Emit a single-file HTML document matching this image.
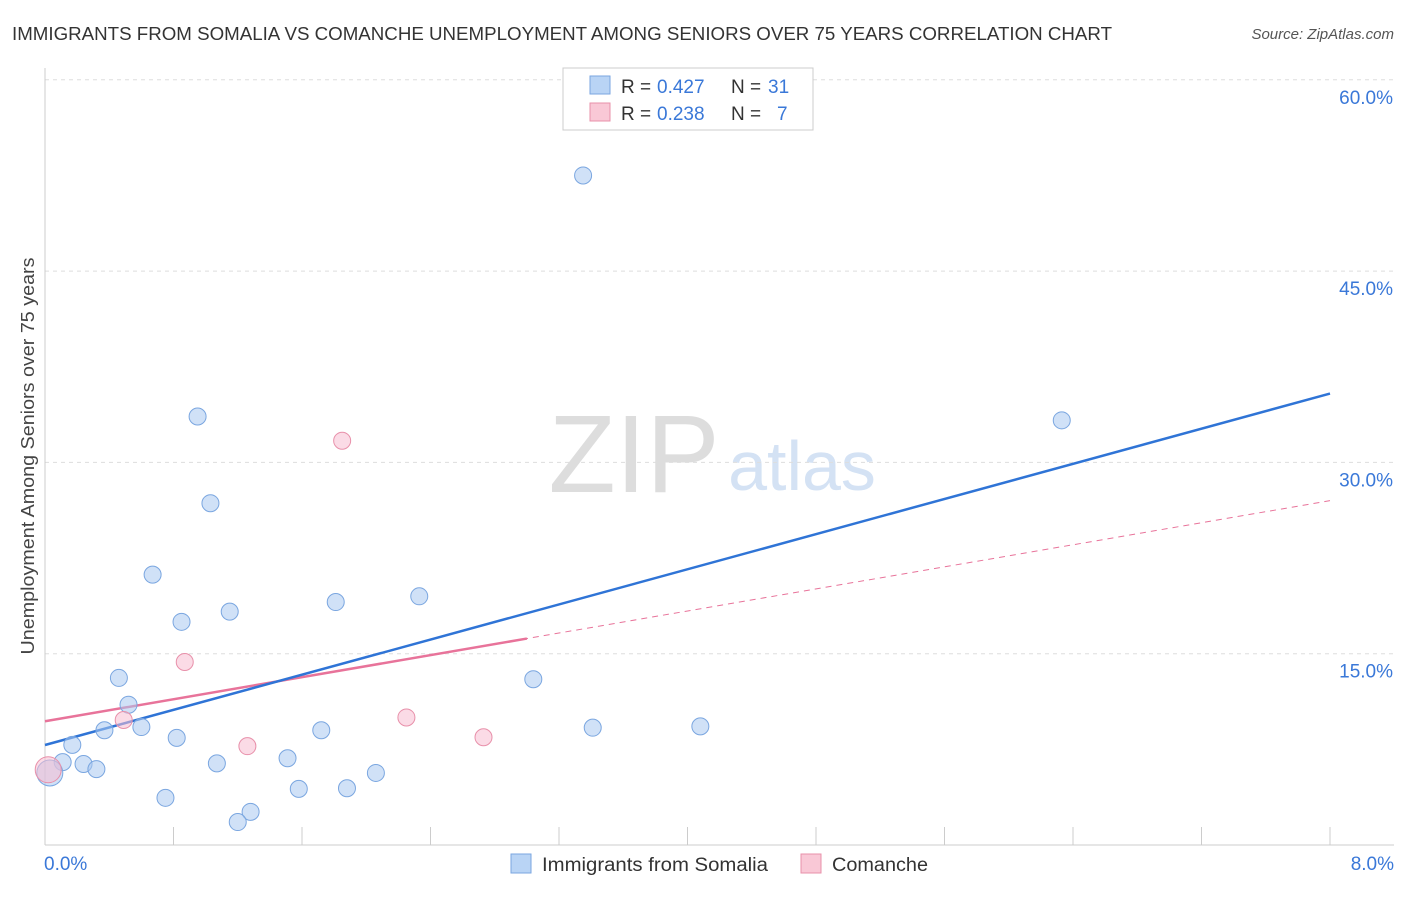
<!DOCTYPE html>
<html><head><meta charset="utf-8"><style>
body{margin:0;background:#fff;font-family:"Liberation Sans",sans-serif;}
svg text{font-family:"Liberation Sans",sans-serif;}
</style></head><body>
<svg id="chart" width="1406" height="892" xmlns="http://www.w3.org/2000/svg">
<text x="12" y="40" font-size="18" fill="#333" textLength="1100" lengthAdjust="spacingAndGlyphs">IMMIGRANTS FROM SOMALIA VS COMANCHE UNEMPLOYMENT AMONG SENIORS OVER 75 YEARS CORRELATION CHART</text>
<text x="1394" y="39" font-size="15" fill="#555" text-anchor="end" font-style="italic">Source: ZipAtlas.com</text>
<text transform="translate(34,456) rotate(-90)" font-size="18" fill="#444" text-anchor="middle" textLength="397" lengthAdjust="spacingAndGlyphs">Unemployment Among Seniors over 75 years</text>
<g>
<text x="634" y="492" font-size="110" fill="#ddd" font-family="Liberation Serif" text-anchor="middle">ZIP</text>
<text x="802" y="490" font-size="70" fill="#d4e2f4" text-anchor="middle">atlas</text>
</g>
<g id="grid"></g>
<g id="axes"></g>
<g id="lines"></g>
<g id="points"></g>
<g>
<rect x="563" y="68" width="250" height="62" fill="#fff" stroke="#ccc"/>
<rect x="590" y="76" width="20" height="18" fill="#b9d4f5" stroke="#7aa6e0"/>
<text x="621" y="93" font-size="19" fill="#333">R =</text>
<text x="657" y="93" font-size="19" fill="#3a78d8">0.427</text>
<text x="731" y="93" font-size="19" fill="#333">N =</text>
<text x="768" y="93" font-size="19" fill="#3a78d8">31</text>
<rect x="590" y="103" width="20" height="18" fill="#f9c8d6" stroke="#e890aa"/>
<text x="621" y="120" font-size="19" fill="#333">R =</text>
<text x="657" y="120" font-size="19" fill="#3a78d8">0.238</text>
<text x="731" y="120" font-size="19" fill="#333">N =</text>
<text x="777" y="120" font-size="19" fill="#3a78d8">7</text>
</g>
<g>
<rect x="511" y="854" width="20" height="19" fill="#b9d4f5" stroke="#7aa6e0"/>
<text x="542" y="871" font-size="19" fill="#333" textLength="226" lengthAdjust="spacingAndGlyphs">Immigrants from Somalia</text>
<rect x="801" y="854" width="20" height="19" fill="#f9c8d6" stroke="#e890aa"/>
<text x="832" y="871" font-size="19" fill="#333" textLength="96" lengthAdjust="spacingAndGlyphs">Comanche</text>
</g>
</svg>
<script>
const blueX=[3.35,0.95,6.33,1.03,0.67,0.85,1.15,1.81,2.33,0.46,3.04,0.52,0.37,0.60,1.72,3.41,4.08,0.82,0.17,0.11,0.24,0.32,1.07,1.51,2.06,0.75,1.58,1.88,1.28,1.20,0.03];
const blueY=[52.5,33.6,33.3,26.8,21.2,17.5,18.3,19.05,19.5,13.1,13.0,11.0,9.0,9.25,9.0,9.2,9.3,8.4,7.85,6.5,6.35,5.95,6.4,6.8,5.65,3.7,4.4,4.45,2.6,1.8,5.65];
const pinkX=[1.85,0.87,0.49,1.26,2.25,2.73,0.02];
const pinkY=[31.7,14.35,9.8,7.75,10.0,8.45,5.9];
const yTicks=[15,30,45,60];
const yTickLabels=["15.0%","30.0%","45.0%","60.0%"];
const xTickLabels=["0.0%","8.0%"];
const blueTrend=[7.84,35.4];
const pinkTrend=[9.7,27.0];
const pinkSolidEnd=3.0;
const X=v=>45+v/8*1285, Y=v=>845-v/15*191.3;
const NS="http://www.w3.org/2000/svg";
function mk(p,t,a){const e=document.createElementNS(NS,t);for(const k in a)e.setAttribute(k,a[k]);document.getElementById(p).appendChild(e);return e;}
yTicks.forEach((t,i)=>{
 const g=mk('grid','line',{x1:45,x2:1394,y1:Y(t),y2:Y(t),stroke:'#ddd','stroke-dasharray':'4,4'});
 
 
 const l=mk('grid','text',{x:1393,y:Y(t)+24,'font-size':19,fill:'#3a78d8','text-anchor':'end'});
 l.textContent=yTickLabels[i];
 
 
});
let ax=mk('axes','line',{x1:45,x2:45,y1:68,y2:845,stroke:'#ccc'});


ax=mk('axes','line',{x1:45,x2:1394,y1:845,y2:845,stroke:'#ccc'});


for(let i=1;i<=10;i++){const t=mk('axes','line',{x1:X(i*0.8),x2:X(i*0.8),y1:827,y2:845,stroke:'#ccc'});
 
 }
[[0,'start',44],[8,'end',1394]].forEach((d,i)=>{const l=mk('axes','text',{x:d[2],y:870,'font-size':19,fill:'#3a78d8','text-anchor':d[1]});l.textContent=xTickLabels[i];
 
 });
let ln=mk('lines','line',{x1:X(0),y1:Y(pinkTrend[0]),x2:X(8),y2:Y(pinkTrend[1]),stroke:'#e8739a','stroke-width':1,'stroke-dasharray':'6,5'});


const py=pinkTrend[0]+(pinkTrend[1]-pinkTrend[0])*pinkSolidEnd/8;
ln=mk('lines','line',{x1:X(0),y1:Y(pinkTrend[0]),x2:X(pinkSolidEnd),y2:Y(py),stroke:'#e8739a','stroke-width':2.5});


ln=mk('lines','line',{x1:X(0),y1:Y(blueTrend[0]),x2:X(8),y2:Y(blueTrend[1]),stroke:'#2f74d6','stroke-width':2.5});


blueX.forEach((x,i)=>{const c=mk('points','circle',{cx:X(x),cy:Y(blueY[i]),r:i==30?13:8.5,fill:'rgba(170,200,240,0.55)',stroke:'#7aa6e0','stroke-width':1});
 
 });
pinkX.forEach((x,i)=>{const c=mk('points','circle',{cx:X(x),cy:Y(pinkY[i]),r:i==6?13:8.5,fill:'rgba(248,190,210,0.55)',stroke:'#e890aa','stroke-width':1});
 
 });
</script>
</body></html>
